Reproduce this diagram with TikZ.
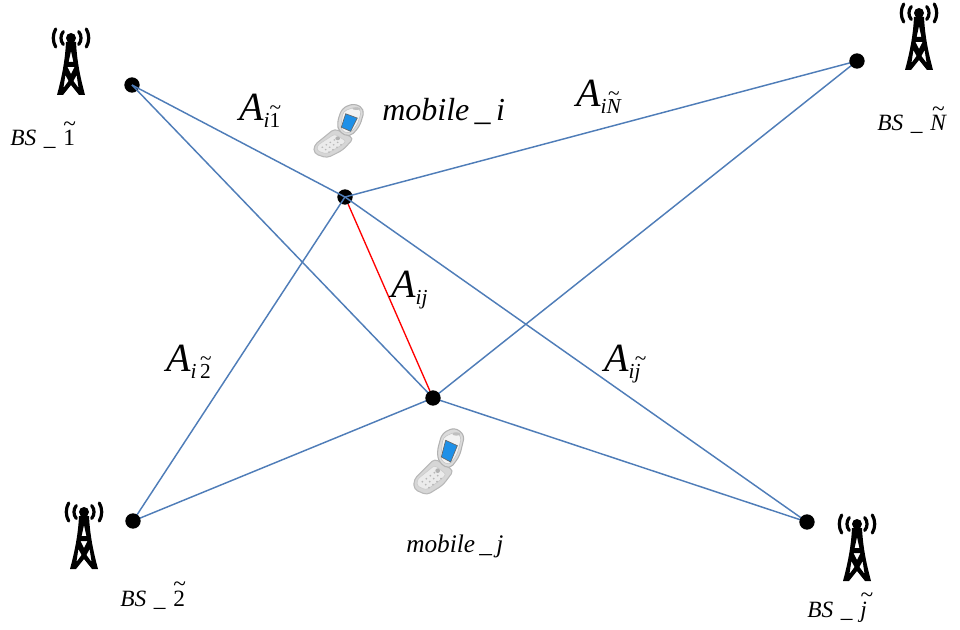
\documentclass[tikz,border=0pt]{standalone}
\usepackage{fontspec}
\setmainfont{Liberation Serif}
\pgfdeclarelayer{front}
\pgfsetlayers{main,front}
\newcommand{\tl}[1]{\ooalign{\hfil\raisebox{.62em}{\textasciitilde}\hfil\cr #1\cr}}
\newcommand{\Lbl}[3]{{\fontsize{#3}{#3}\selectfont\itshape #1}\raisebox{-.5em}{\fontsize{16}{17}\selectfont\itshape i#2}}
\newcommand{\BSl}[1]{\fontsize{17.5}{18}\selectfont\itshape BS\,\,\_\,\,#1}
\tikzset{
  x=0.75pt,y=-0.75pt,
  dot/.style={circle,fill=black,inner sep=0pt,minimum size=11.5pt},
  link/.style={draw={rgb,255:red,79;green,125;blue,184},line width=1.1pt},
  redlink/.style={draw=red,line width=1pt},
  lbl/.style={inner sep=0pt,anchor=base west},
  pics/tower/.style={code={
    \draw[line width=2.4pt,line cap=round] (-7.7,-6.4) arc[start angle=220,end angle=140,radius=10];
    \draw[line width=2.4pt,line cap=round] (7.7,-6.4) arc[start angle=-40,end angle=40,radius=10];
    \draw[line width=2.4pt,line cap=round] (-15.3,-9) arc[start angle=210,end angle=150,radius=18];
    \draw[line width=2.4pt,line cap=round] (15.3,-9) arc[start angle=-30,end angle=30,radius=18];
    \fill (0,0) circle[radius=5];
    \fill[even odd rule] (-5,4) -- (5,4) .. controls (6,25) and (10,42) .. (14,57) -- (8,57) -- (0,47) -- (-8,57) -- (-14,57) .. controls (-10,42) and (-6,25) .. (-5,4) -- cycle
      (0,13) -- (-2.4,24) -- (2.4,24) -- cycle
      (-3.6,29) -- (3.6,29) -- (0,36) -- cycle
      (-5.6,37) -- (-2.4,43) -- (-7.6,50) -- cycle
      (5.6,37) -- (2.4,43) -- (7.6,50) -- cycle;
  }},
  pics/phone/.style={code={
    \begin{scope}[x=0.25pt,y=-0.25pt,shift={(-178,-243)}]
      \filldraw[draw=black!28,fill=black!16,line width=.8pt,rounded corners=3pt]
        (103,298) -- (165,236) -- (222,272) -- (190,315) -- (142,345) -- (103,328) -- cycle;
      \filldraw[draw=black!20,fill=black!8,line width=.5pt,rounded corners=2pt]
        (113,298) -- (165,256) -- (200,283) -- (180,302) -- (140,330) -- (112,318) -- cycle;
      \foreach \a in {0,1,2,3}\foreach \b in {0,1,2}
        \fill[black!28] ({128+\a*12+\b*10},{305-\a*9+\b*9}) circle[radius=3];
      \filldraw[draw=black!30,fill=black!14,line width=.8pt,rounded corners=4pt]
        (187,160) -- (225,142) -- (255,165) -- (240,228) -- (210,268) -- (178,248) -- (172,215) -- cycle;
      \filldraw[draw=black!22,fill=black!5,line width=.5pt,rounded corners=3pt]
        (190,172) -- (228,155) -- (246,170) -- (232,225) -- (208,256) -- (182,240) -- cycle;
      \filldraw[draw=black!60,fill={rgb,255:red,30;green,144;blue,232},line width=.5pt]
        (198,181) -- (233,197) -- (213,246) -- (185,231) -- cycle;
      \fill[black!25] (230,162) ellipse[x radius=12,y radius=5];
      \fill[black!30] (174,272) circle[radius=7];
    \end{scope}
  }}
}
\begin{document}
\begin{tikzpicture}
\useasboundingbox (0,0) rectangle (960,630);
\node[dot] (b1) at (132,85) {};
\node[dot] (mi) at (345,197) {};
\begin{pgfonlayer}{front}
\node[dot] (bN) at (857,61) {};
\node[dot] (mj) at (433,398) {};
\node[dot] (b2) at (133,521) {};
\node[dot] (bj) at (807,522) {};
\end{pgfonlayer}
\draw[link] (b1.center) -- (mi.center);
\draw[link] (b1.center) -- (mj.center);
\draw[link] (mi.center) -- (bN.center);
\draw[link] (mi.center) -- (b2.center);
\draw[link] (mi.center) -- (bj.center);
\draw[link] (mj.center) -- (bN.center);
\draw[link] (mj.center) -- (b2.center);
\draw[link] (mj.center) -- (bj.center);
\draw[redlink] (mi) -- (mj);
\pic at (71,38) {tower};
\pic at (919,13) {tower};
\pic at (84,512) {tower};
\pic at (857,524) {tower};
\pic[yscale=.81] at (339,130.5) {phone};
\pic at (439,461) {phone};
\node[lbl] (l1) at (239,121) {\Lbl{A}{\upshape\tl{1}}{30}};
\node[lbl] (lN) at (576,107) {\Lbl{A}{\tl{N}}{30}};
\node[lbl] (lij) at (391,298) {\Lbl{A}{j}{30}};
\node[lbl] (l2) at (166,372) {\Lbl{A}{\upshape\,\tl{2}}{30}};
\node[lbl] (lj) at (604,372) {\Lbl{A}{\tl{j}}{30}};
\node[lbl] (mil) at (382,121) {\fontsize{24}{25}\selectfont\itshape mobile\,\_\,i};
\node[lbl] (mjl) at (406,552) {\fontsize{19}{20}\selectfont\itshape mobile\,\_\,j};
\node[lbl] (s1) at (10,146) {\BSl{\upshape\tl{1}}};
\node[lbl] (sN) at (877,131) {\BSl{\tl{N}}};
\node[lbl] (s2) at (120,606) {\BSl{\upshape\tl{2}}};
\node[lbl] (sj) at (807,617) {\BSl{\tl{j}}};
\end{tikzpicture}
\end{document}
